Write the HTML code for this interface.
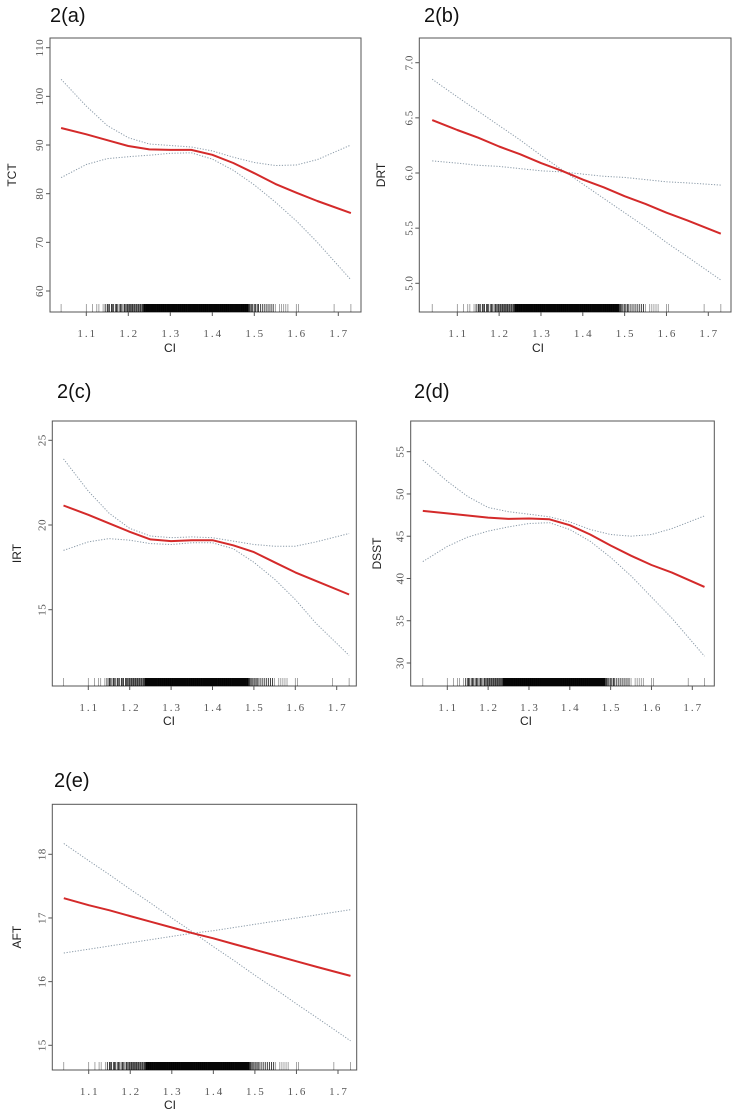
<!DOCTYPE html>
<html><head><meta charset="utf-8">
<style>
html,body{margin:0;padding:0;background:#fff;}
svg{display:block;}
.ttl{font-family:"Liberation Sans",sans-serif;font-size:20px;fill:#111;}
.tk{font-family:"Liberation Serif",serif;font-size:11px;fill:#555;letter-spacing:2px;}
.tky{font-family:"Liberation Serif",serif;font-size:11px;fill:#555;letter-spacing:0.5px;}
.ax{font-family:"Liberation Sans",sans-serif;font-size:12px;fill:#222;}
</style></head>
<body>
<svg id="fig" width="743" height="1115" viewBox="0 0 743 1115" xmlns="http://www.w3.org/2000/svg"></svg>
<script>
// shared data
const xCats = [1.04,1.10,1.15,1.20,1.25,1.30,1.35,1.40,1.45,1.50,1.55,1.60,1.65,1.73];
const xTicks = [1.1,1.2,1.3,1.4,1.5,1.6,1.7];
const rugVals = [1.04,1.10,1.115,1.125,1.13,1.14,1.145,1.15,1.152,1.155,1.16,1.162,1.165,1.17,1.172,1.175,1.18,1.182,1.185,1.19,1.192,1.195,1.198,1.20,1.203,1.205,1.208,1.21,1.213,1.215,1.218,1.22,1.223,1.225,1.228,1.23,1.233,1.235,1.238,1.24,1.243,1.245,1.248,1.25,1.253,1.255,1.258,1.26,1.263,1.265,1.268,1.27,1.273,1.275,1.278,1.28,1.283,1.285,1.288,1.29,1.293,1.295,1.298,1.30,1.303,1.305,1.308,1.31,1.313,1.315,1.318,1.32,1.323,1.325,1.328,1.33,1.333,1.335,1.338,1.34,1.343,1.345,1.348,1.35,1.353,1.355,1.358,1.36,1.363,1.365,1.368,1.37,1.373,1.375,1.378,1.38,1.383,1.385,1.388,1.39,1.393,1.395,1.398,1.40,1.403,1.405,1.408,1.41,1.413,1.415,1.418,1.42,1.423,1.425,1.428,1.43,1.433,1.435,1.438,1.44,1.443,1.445,1.448,1.45,1.453,1.455,1.458,1.46,1.463,1.465,1.468,1.47,1.473,1.475,1.478,1.48,1.483,1.485,1.488,1.49,1.493,1.496,1.50,1.503,1.507,1.51,1.515,1.52,1.525,1.53,1.535,1.54,1.545,1.55,1.56,1.565,1.57,1.575,1.58,1.60,1.605,1.69,1.73];
// panel a (TCT)
const aFit = [93.5,92.2,91.0,89.8,89.1,89.0,89.0,88.0,86.3,84.2,82.0,80.2,78.5,76.0];
const aUp  = [103.5,98.0,94.0,91.5,90.2,89.9,89.6,88.8,87.5,86.4,85.8,85.9,87.0,90.0];
const aLo  = [83.3,86.0,87.2,87.6,87.9,88.3,88.4,87.1,84.8,81.8,78.3,74.4,70.0,62.3];
const aYTicks = [60,70,80,90,100,110];
// panel b (DRT)
const bFit = [6.48,6.39,6.32,6.24,6.17,6.09,6.02,5.94,5.87,5.79,5.72,5.64,5.57,5.45];
const bUp  = [6.85,6.69,6.56,6.43,6.30,6.16,6.03,5.90,5.77,5.64,5.51,5.37,5.24,5.03];
const bLo  = [6.11,6.09,6.07,6.06,6.04,6.02,6.01,5.99,5.97,5.96,5.94,5.92,5.91,5.89];
const bYTicks = [5.0,5.5,6.0,6.5,7.0];
// panel c (IRT)
const cFit = [21.15,20.6,20.1,19.6,19.15,19.05,19.1,19.1,18.8,18.4,17.8,17.2,16.7,15.9];
const cUp  = [23.9,22.0,20.7,19.8,19.35,19.25,19.3,19.25,19.05,18.85,18.75,18.75,19.0,19.5];
const cLo  = [18.5,19.0,19.2,19.1,18.9,18.85,18.95,18.95,18.6,17.8,16.8,15.6,14.2,12.3];
const cYTicks = [15,20,25];
// panel d (DSST)
const dFit = [48.0,47.7,47.45,47.2,47.05,47.1,47.0,46.3,45.2,43.9,42.7,41.6,40.7,39.0];
const dUp  = [54.0,51.5,49.7,48.4,47.9,47.6,47.3,46.7,45.8,45.2,45.0,45.2,45.9,47.4];
const dLo  = [42.0,43.8,44.9,45.6,46.1,46.5,46.6,45.8,44.4,42.5,40.3,37.8,35.3,30.8];
const dYTicks = [30,35,40,45,50,55];
// panel e (AFT)
const eFit = [17.31,17.20,17.12,17.03,16.94,16.85,16.76,16.68,16.59,16.50,16.41,16.32,16.23,16.09];
const eUp  = [18.17,17.90,17.68,17.45,17.23,17.00,16.78,16.55,16.33,16.10,15.88,15.65,15.43,15.07];
const eLo  = [16.45,16.51,16.56,16.61,16.66,16.71,16.76,16.80,16.85,16.90,16.95,17.00,17.05,17.13];
const eYTicks = [15,16,17,18];

const NS="http://www.w3.org/2000/svg";
const svg=document.getElementById('fig');
function mk(tag,parent){const e=document.createElementNS(NS,tag);parent.appendChild(e);return e;}

const panels=[
 {id:'a',title:'2(a)',yl:'TCT',box:[50,38,361,312],x1:86.3,x7:338.3,yA:[110,47.7],yB:[60,291],fit:aFit,up:aUp,lo:aLo,yt:aYTicks,fmt:v=>String(v),tx:50,ty:22,ylx:16,tky:337,cix:170,ciy:352},
 {id:'b',title:'2(b)',yl:'DRT',box:[419.3,38,731,312],x1:457.3,x7:708.3,yA:[7.0,62.7],yB:[5.0,283.3],fit:bFit,up:bUp,lo:bLo,yt:bYTicks,fmt:v=>v.toFixed(1),tx:424,ty:22,ylx:385,tky:337,cix:538,ciy:352},
 {id:'c',title:'2(c)',yl:'IRT',box:[52.3,421,356.3,686],x1:88.3,x7:336.7,yA:[25,440.3],yB:[15,609.7],fit:cFit,up:cUp,lo:cLo,yt:cYTicks,fmt:v=>String(v),tx:57,ty:398,ylx:21,tky:711,cix:169,ciy:725},
 {id:'d',title:'2(d)',yl:'DSST',box:[410.7,421,714.3,686],x1:447.3,x7:692.3,yA:[55,451.7],yB:[30,663],fit:dFit,up:dUp,lo:dLo,yt:dYTicks,fmt:v=>String(v),tx:414,ty:398,ylx:381,tky:711,cix:526,ciy:725},
 {id:'e',title:'2(e)',yl:'AFT',box:[52.3,804.3,356.7,1070],x1:88.7,x7:338,yA:[18,854.3],yB:[15,1045.3],fit:eFit,up:eUp,lo:eLo,yt:eYTicks,fmt:v=>String(v),tx:54,ty:787,ylx:21,tky:1095,cix:170,ciy:1109}
];

panels.forEach(p=>{
 const g=mk('g',svg);
 
 
 const [L,T,R,B]=p.box;
 const xs=v=>p.x1+(v-1.1)*(p.x7-p.x1)/0.6;
 const ys=v=>p.yB[1]+(v-p.yB[0])*(p.yA[1]-p.yB[1])/(p.yA[0]-p.yB[0]);
 const t=mk('text',g);t.setAttribute('class','ttl');t.setAttribute('x',p.tx);t.setAttribute('y',p.ty);t.textContent=p.title;
 
 
 const rect=mk('rect',g);
 rect.setAttribute('x',L);rect.setAttribute('y',T);rect.setAttribute('width',R-L);rect.setAttribute('height',B-T);
 rect.setAttribute('fill','none');rect.setAttribute('stroke','#555');rect.setAttribute('stroke-width','1');
 
 
 // rug
 const rug=mk('g',g);
 
 
 rugVals.forEach(v=>{const l=mk('line',rug);const x=xs(v);
  const dense=v>=1.238&&v<=1.485;
  const mid=v>=1.145&&v<=1.545;
  l.setAttribute('x1',x);l.setAttribute('x2',x);l.setAttribute('y1',B);l.setAttribute('y2',B-8);
  l.setAttribute('stroke','#000');l.setAttribute('stroke-width',dense?'1.6':(mid?'1':'0.7'));l.setAttribute('stroke-opacity',dense?'0.95':(mid?'0.75':'0.5'));});
 // x ticks
 xTicks.forEach(v=>{const x=xs(v);const l=mk('line',g);
  l.setAttribute('x1',x);l.setAttribute('x2',x);l.setAttribute('y1',B);l.setAttribute('y2',B+4);l.setAttribute('stroke','#555');
  const tx=mk('text',g);tx.setAttribute('class','tk');tx.setAttribute('x',x+1);tx.setAttribute('y',p.tky);tx.setAttribute('text-anchor','middle');tx.textContent=v.toFixed(1);
  
  });
 // y ticks
 p.yt.forEach(v=>{const y=ys(v);const l=mk('line',g);
  l.setAttribute('x1',L-4);l.setAttribute('x2',L);l.setAttribute('y1',y);l.setAttribute('y2',y);l.setAttribute('stroke','#555');
  const tx=mk('text',g);tx.setAttribute('class','tky');tx.setAttribute('transform','translate('+(L-7)+','+y+') rotate(-90)');tx.setAttribute('text-anchor','middle');tx.textContent=p.fmt(v);
  
  });
 const yl=mk('text',g);yl.setAttribute('class','ax');yl.setAttribute('text-anchor','middle');
 yl.setAttribute('transform','translate('+p.ylx+','+((T+B)/2)+') rotate(-90)');yl.textContent=p.yl;
 
 
 const ci=mk('text',g);ci.setAttribute('class','ax');ci.setAttribute('text-anchor','middle');ci.setAttribute('x',p.cix);ci.setAttribute('y',p.ciy);ci.textContent='CI';
 
 
 const pts=arr=>arr.map((v,i)=>xs(xCats[i]).toFixed(1)+','+ys(v).toFixed(1)).join(' ');
 [['upper-ci-line',p.up],['lower-ci-line',p.lo]].forEach(([n,arr])=>{
  const pl=mk('polyline',g);pl.setAttribute('points',pts(arr));pl.setAttribute('fill','none');
  pl.setAttribute('stroke','#8a9aa8');pl.setAttribute('stroke-width','1');pl.setAttribute('stroke-dasharray','1.2 1.6');pl.setAttribute('stroke-linejoin','round');
  
  });
 const f=mk('polyline',g);f.setAttribute('points',pts(p.fit));f.setAttribute('fill','none');
 f.setAttribute('stroke','#d42a2a');f.setAttribute('stroke-width','2');f.setAttribute('stroke-linejoin','round');
 
 
});
</script>
</body></html>
